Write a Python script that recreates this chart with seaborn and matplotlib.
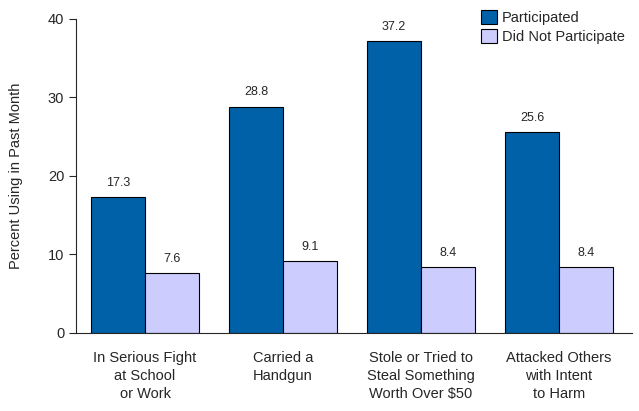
import pandas as pd
import matplotlib

matplotlib.use("Agg")
import matplotlib.pyplot as plt
import seaborn as sns

categorias = [
    "In Serious Fight\nat School\nor Work",
    "Carried a\nHandgun",
    "Stole or Tried to\nSteal Something\nWorth Over $50",
    "Attacked Others\nwith Intent\nto Harm",
]
participo = [17.3, 28.8, 37.2, 25.6]
no_participo = [7.6, 9.1, 8.4, 8.4]
grupos = ["Participated", "Did Not Participate"]
colores = ["#0060A8", "#CCCCFF"]

df = pd.DataFrame({
    "categoria": categorias * 2,
    "valor": participo + no_participo,
    "grupo": [grupos[0]] * 4 + [grupos[1]] * 4,
})

sns.set_style("ticks")
plt.rcParams["font.family"] = ["Liberation Sans", "DejaVu Sans"]

fig = plt.figure(figsize=(6.39, 4.11), dpi=100)
ax = fig.add_axes([0.119, 0.19, 0.870, 0.764])

sns.barplot(data=df, x="categoria", y="valor", hue="grupo", palette=colores,
            width=0.78, edgecolor="black", linewidth=0.8, saturation=1,
            ax=ax)

for cont in ax.containers:
    ax.bar_label(cont, fmt="%.1f", padding=6, fontsize=9)

ax.set_ylim(0, 40)
ax.set_yticks([0, 10, 20, 30, 40])
ax.set_xlabel("")
ax.set_ylabel("Percent Using in Past Month", fontsize=10.5, labelpad=18)
ax.tick_params(axis="y", labelsize=10.5, length=5, width=0.8)
ax.tick_params(axis="x", labelsize=10.5, length=0, pad=13)
for lbl in ax.get_xticklabels():
    lbl.set_linespacing(1.35)
ax.spines["top"].set_visible(False)
ax.spines["right"].set_visible(False)
ax.spines["left"].set_linewidth(0.8)
ax.spines["bottom"].set_linewidth(0.8)
ax.set_xlim(-0.5, 3.53)

ax.legend(loc="upper right", bbox_to_anchor=(1.01, 1.07), frameon=False,
          fontsize=10.5, handlelength=1.1, handleheight=1.1,
          handletextpad=0.3, labelspacing=0.3)

fig.savefig("out.png", dpi=100)
